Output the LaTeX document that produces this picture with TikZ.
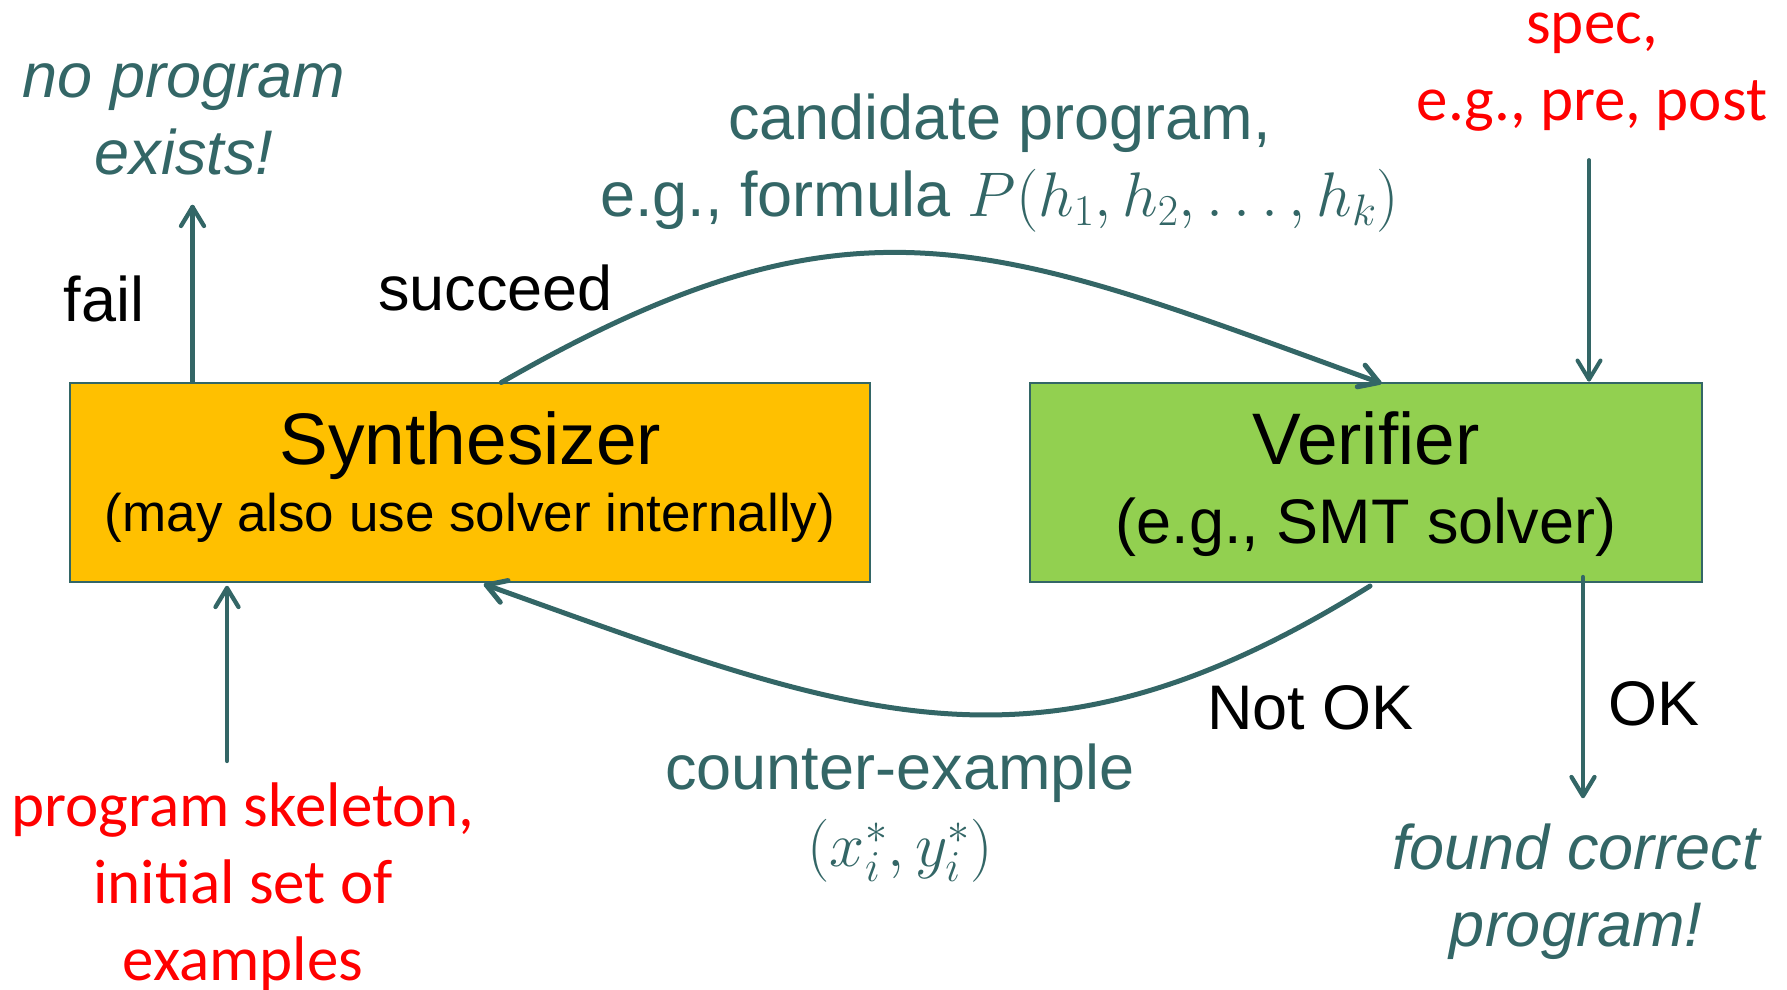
\RequirePackage{fix-cm}
\documentclass[tikz,border=0pt]{standalone}
\usepackage[no-math]{fontspec}
\setmainfont{Liberation Sans}
\newfontfamily\calfont{Carlito}
\usetikzlibrary{arrows.meta,calc,decorations.markings}
\definecolor{tealc}{RGB}{51,102,102}
\definecolor{synfill}{RGB}{255,192,0}
\definecolor{verfill}{RGB}{146,208,80}
\definecolor{redc}{RGB}{255,0,0}
\begin{document}
\begin{tikzpicture}[x=1pt,y=1pt,
  box/.style={draw=tealc, line width=2pt, inner sep=0pt, minimum height=199.5pt},
  vhead/.style={postaction={decorate}, decoration={markings,
      mark=at position 1 with {\draw[draw=tealc, line width=#1, line cap=round, line join=round]
        (-19pt,11.5pt) -- (0pt,0pt) -- (-19pt,-11.5pt);}}},
  conn/.style={draw=tealc, line width=4.3pt, line cap=round, vhead=4.3pt},
  curveconn/.style={draw=tealc, line width=5pt, line cap=round, vhead=5pt},
  txt/.style={anchor=base, inner sep=0pt, align=center},
  big/.style={txt, font=\fontsize{73}{80}\selectfont},
  mid/.style={txt, font=\fontsize{63}{77}\selectfont},
  small/.style={txt, font=\fontsize{53}{60}\selectfont},
  tealtxt/.style={mid, text=tealc},
  tealit/.style={mid, text=tealc, font=\fontsize{63}{77}\selectfont\itshape},
  redtxt/.style={mid, text=redc, font=\fontsize{63}{77}\selectfont\calfont},
]
\useasboundingbox (0,0) rectangle (1787,-989);

% boxes
\node[box, fill=synfill, minimum width=799.5pt] (syn) at (470,-482.25) {};
\node[box, fill=verfill, minimum width=671.7pt] (ver) at (1365.9,-482.25) {};

\node[big] (synT) at (470.5,-464) {Synthesizer};
\node[small] (synS) at (470,-531) {(may also use solver internally)};
\node[big] (verT) at (1366,-464) {Verifier};
\node[mid] (verS) at (1366,-543) {(e.g., SMT solver)};

% outside texts (anchor = baseline of last line)
\node[tealit] (noprog) at (184,-174) {no program\\exists!};
\node[redtxt] (spec) at (1592,-120) {spec,\\e.g., pre, post};
\node[tealtxt] (cand) at (999.5,-216.5) {candidate program,\\e.g., formula $P(h_1,h_2,\ldots,h_k)$};
\node[tealtxt] (cex) at (900,-866) {counter-example\\$(x_i^*,y_i^*)$};
\node[redtxt] (skel) at (243,-980) {program skeleton,\\initial set of\\examples};
\node[tealit] (found) at (1576,-946) {found correct\\program!};

\node[mid] (fail) at (104,-321) {fail};
\node[mid] (succ) at (495.5,-310) {succeed};
\node[mid] (notok) at (1310.5,-729) {Not OK};
\node[mid] (ok) at (1654,-725) {OK};

% connector end points
\coordinate (failtip) at (192.5,-207);
\coordinate (initstart) at (227,-761);
\coordinate (specstart) at (1589,-160);
\coordinate (oktip) at (1583,-796);
\coordinate (sA) at ($(syn.north west)+(432,-1)$);
\coordinate (vA) at ($(ver.north west)+(350,-1)$);
\coordinate (vB) at ($(ver.south west)+(341,-3)$);
\coordinate (sB) at ($(syn.south west)+(417,-2)$);

% connectors
\draw[conn] (syn.north -| failtip) -- (failtip);
\draw[conn] (initstart) -- ($(initstart |- syn.south)+(0,-5)$);
\draw[draw=tealc, line width=3.8pt, line cap=round, vhead=4pt] (specstart) -- ($(specstart |- ver.north)+(0,2)$);
\draw[conn] ($(oktip |- ver.south)+(0,6)$) -- (oktip);
\draw[curveconn] (sA) .. controls (857,-178) and (995,-243) .. (vA);
\draw[curveconn] (vB) .. controls (1037,-794) and (858,-718) .. (sB);
\end{tikzpicture}
\end{document}
